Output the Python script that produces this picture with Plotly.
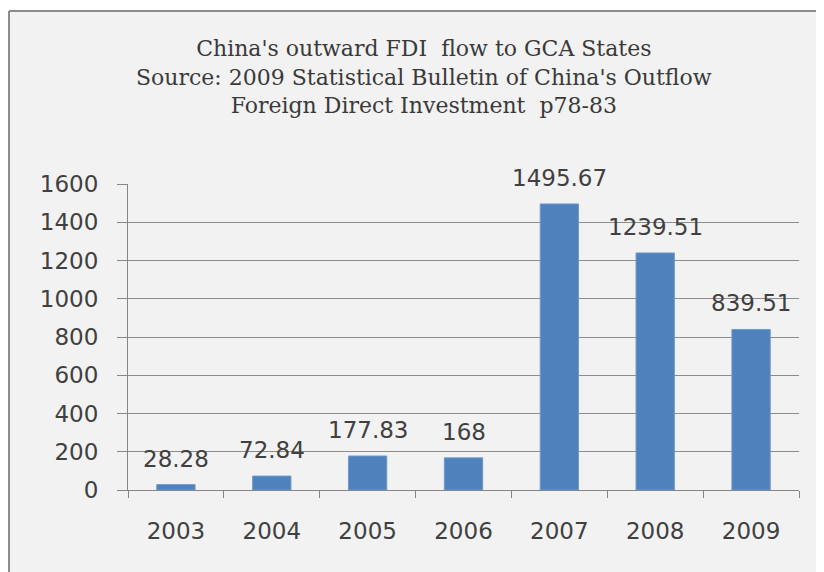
import plotly.graph_objects as go

years = ["2003", "2004", "2005", "2006", "2007", "2008", "2009"]
values = [28.28, 72.84, 177.83, 168, 1495.67, 1239.51, 839.51]
value_labels = ["28.28", "72.84", "177.83", "168", "1495.67", "1239.51", "839.51"]
title_lines = [
    "China's outward FDI  flow to GCA States",
    "Source: 2009 Statistical Bulletin of China's Outflow",
    "Foreign Direct Investment  p78-83",
]
y_ticks = [0, 200, 400, 600, 800, 1000, 1200, 1400, 1600]

W, H = 816, 564
L, R, T, B = 120, 25, 176, 82
pw, ph = W - L - R, H - T - B

fig = go.Figure()
fig.add_trace(go.Bar(
    x=years, y=values,
    marker=dict(color="#4f81bd", line=dict(color="#6f9bd0", width=1)),
    width=0.4,
    hoverinfo="x+y",
))

for i, (v, t) in enumerate(zip(values, value_labels)):
    fig.add_annotation(x=i, y=v, text=t, showarrow=False, yanchor="bottom",
                       yshift=11, font=dict(family="DejaVu Sans", size=23, color="#404040"))

# frame (background panel) with only top and left borders visible
fx0, fx1 = (1 - L) / pw, (W + 40 - L) / pw
fy0, fy1 = -(B + 40) / ph, (H - 3 - B) / ph
fig.add_shape(type="rect", xref="paper", yref="paper",
              x0=fx0, x1=fx1, y0=fy0, y1=fy1,
              fillcolor="#f2f2f2", line=dict(width=0), layer="below")
fig.add_shape(type="line", xref="paper", yref="paper",
              x0=fx0, x1=fx1, y0=fy1, y1=fy1,
              line=dict(color="#8c8c8c", width=2), layer="below")
fig.add_shape(type="line", xref="paper", yref="paper",
              x0=fx0, x1=fx0, y0=fy0, y1=fy1,
              line=dict(color="#8c8c8c", width=2), layer="below")

fig.add_annotation(xref="paper", yref="paper", x=(416 - L) / pw, y=(H - 69 - B) / ph,
                   text="<br>".join(title_lines), showarrow=False,
                   xanchor="center", yanchor="middle", align="center",
                   font=dict(family="DejaVu Serif", size=22, color="#3a3a3a"))

fig.update_layout(
    width=W, height=H,
    margin=dict(l=L, r=R, t=T, b=B, autoexpand=False),
    paper_bgcolor="white", plot_bgcolor="rgba(0,0,0,0)",
    showlegend=False,
    bargap=0.6,
)
fig.update_xaxes(
    type="category", range=[-0.5, 6.5], automargin=False, tickangle=0,
    showgrid=False, showline=True, linecolor="#868686", linewidth=1,
    ticks="outside", tickson="boundaries", ticklen=7, tickcolor="#868686",
    tickfont=dict(family="DejaVu Sans", size=23, color="#404040"),
    ticklabelstandoff=20,
)
fig.update_yaxes(
    range=[0, 1600], tickvals=y_ticks, automargin=False,
    showgrid=True, gridcolor="#8c8c8c", gridwidth=1,
    showline=True, linecolor="#868686", linewidth=1, zeroline=False,
    ticks="outside", ticklen=10, tickcolor="#868686",
    tickfont=dict(family="DejaVu Sans", size=23, color="#404040"),
    ticklabelstandoff=14,
)

fig.write_html("out.html")
